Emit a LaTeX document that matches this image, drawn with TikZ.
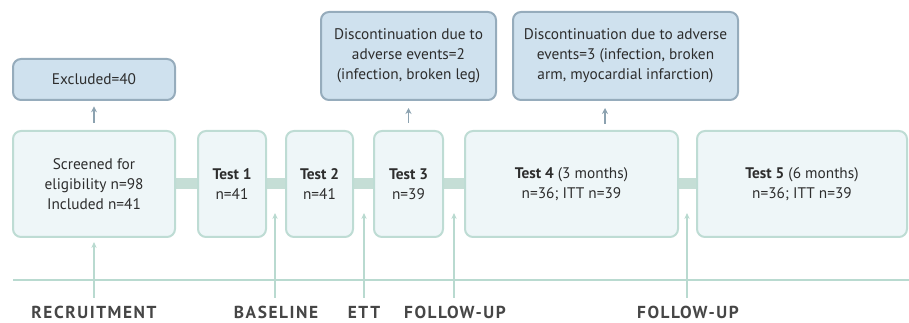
\documentclass[tikz,border=0pt]{standalone}
\usepackage{fontspec}
\setmainfont{PT Sans}
\newfontfamily\phasefont[LetterSpace=9]{PT Sans Bold}
\usepackage{tikz}
\usetikzlibrary{arrows.meta, positioning, backgrounds, calc}
\definecolor{boxfill}{RGB}{238,246,248}
\definecolor{boxline}{RGB}{190,220,212}
\definecolor{eventfill}{RGB}{207,225,238}
\definecolor{eventline}{RGB}{150,172,188}
\definecolor{barcolor}{RGB}{197,222,214}
\definecolor{timeline}{RGB}{185,218,208}
\definecolor{uparrowcol}{RGB}{140,162,176}
\definecolor{textgray}{RGB}{45,45,45}
\definecolor{phasegray}{RGB}{70,70,70}
\tikzset{
  stage/.style={draw=boxline, fill=boxfill},
  event/.style={draw=eventline, fill=eventfill},
}

\begin{document}
\begin{tikzpicture}[
  x=0.75pt,y=-0.75pt,
  box/.style={
    rectangle, rounded corners=6pt, line width=1.5pt,
    minimum height=79.5pt, inner sep=2pt,
    align=center, font=\fontsize{11.5}{15}\selectfont, text=textgray
  },
  link/.style={line width=8.25pt, draw=barcolor},
  raise/.style={-{Stealth[length=4.5pt,width=4.5pt]}, line width=1.1pt, draw=uparrowcol},
  tick/.style={-{Stealth[length=4.5pt,width=4pt]}, line width=1.3pt, draw=timeline},
  phase/.style={font=\phasefont\fontsize{13}{14}\selectfont, text=phasegray, inner sep=0pt, anchor=base}
]
\useasboundingbox (0,0) rectangle (909,323);

% ---- stages ----
\node[box, stage, minimum width=121.5pt]  (screen) at (94,184)    {Screened for\\eligibility n=98\\Included n=41};
\node[box, stage, minimum width=51pt]     (test1)  at (232,184)   {\textbf{Test 1}\\n=41};
\node[box, stage, minimum width=50.25pt]  (test2)  at (319.5,184) {\textbf{Test 2}\\n=41};
\node[box, stage, minimum width=51.75pt]  (test3)  at (408.5,184) {\textbf{Test 3}\\n=39};
\node[box, stage, minimum width=159.75pt] (test4)  at (571.5,184) {\textbf{Test 4} (3 months)\\n=36; ITT n=39};
\node[box, stage, minimum width=157.5pt]  (test5)  at (802,184)   {\textbf{Test 5} (6 months)\\n=36; ITT n=39};

% ---- drop-outs ----
\node[box, event, minimum width=121.5pt, minimum height=30.75pt]  (excl)  at (94,79.5)  {Excluded=40};
\node[box, event, minimum width=131.25pt, minimum height=66pt]    (disc1) at (408.5,56) {Discontinuation due to\\adverse events=2\\(infection, broken leg)};
\node[box, event, minimum width=168.75pt, minimum height=66pt]    (disc2) at (625.5,56) {Discontinuation due to adverse\\events=3 (infection, broken\\arm, myocardial infarction)};

% ---- links between stages ----
\begin{scope}[on background layer]
\draw[link] (screen) -- (test1);
\draw[link] (test1) -- (test2);
\draw[link] (test2) -- (test3);
\draw[link] (test3) -- (test4);
\draw[link] (test4) -- (test5);
\end{scope}

\draw[raise, shorten <=5.25pt, shorten >=4pt] (screen.north) -- (excl.south);
\draw[raise, shorten <=5.25pt, shorten >=5.25pt] (test3.north) -- (disc1.south);
\coordinate (d2) at (605,124);
\draw[raise, shorten >=5.25pt] (d2) -- (d2 |- disc2.south);

% ---- timeline ----
\coordinate (tl) at (13,280);
\coordinate (tr) at (909,280);
\draw[timeline, line width=1.6pt] (tl) -- (tr);

\node[phase] (recr) at (94,319)  {RECRUITMENT};
\node[phase] (base) at (276,319) {BASELINE};
\node[phase] (ett)  at (364,319) {ETT};
\node[phase] (fu1)  at (455,319) {FOLLOW-UP};
\node[phase] (fu2)  at (688,319) {FOLLOW-UP};

\coordinate (recB) at (94,298);
\coordinate (basB) at (275,298);  \coordinate (basT) at (275,213);
\coordinate (ettB) at (364,298);  \coordinate (ettT) at (364,213);
\coordinate (fuaB) at (454,298);  \coordinate (fuaT) at (454,213);
\coordinate (fubB) at (687,298);  \coordinate (fubT) at (687,213);

\draw[tick, shorten >=3pt] (recB) -- (screen.south);
\draw[tick] (basB) -- (basT);
\draw[tick] (ettB) -- (ettT);
\draw[tick] (fuaB) -- (fuaT);
\draw[tick] (fubB) -- (fubT);

\end{tikzpicture}
\end{document}
